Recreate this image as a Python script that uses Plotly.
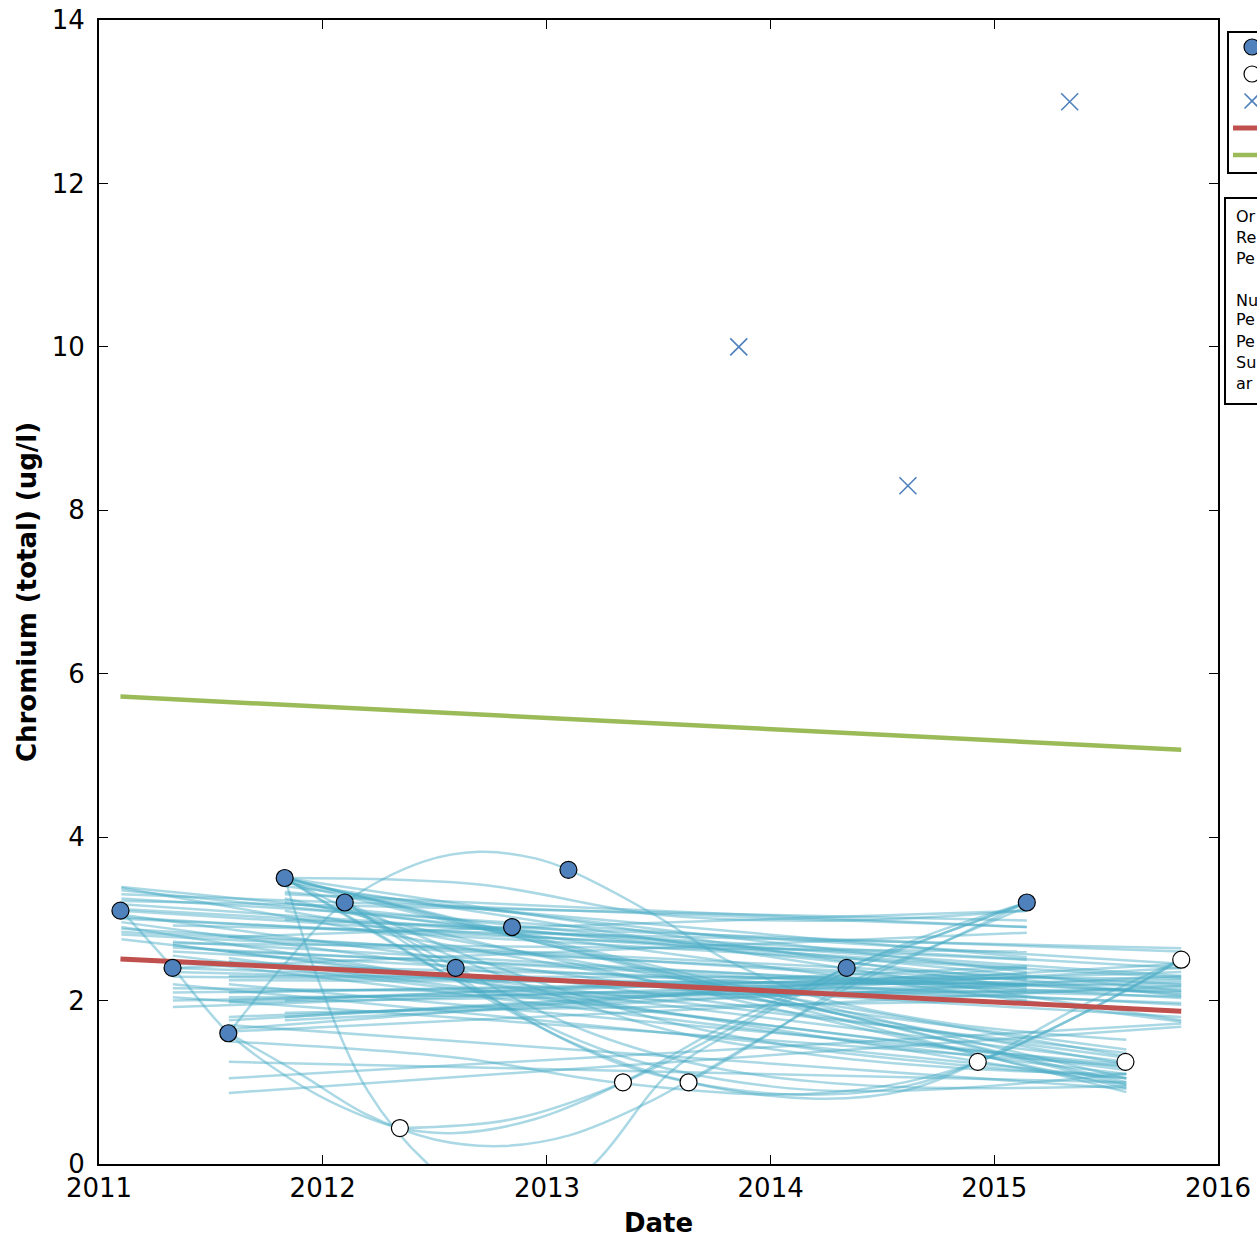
import plotly.graph_objects as go
from datetime import datetime, timedelta

# ---------------- data ----------------
detect_dates = ["2011-02-05", "2011-05-01", "2011-07-31", "2011-10-31", "2012-02-06",
                "2012-08-05", "2012-11-05", "2013-02-05", "2014-05-05", "2015-02-23"]
detect_vals = [3.1, 2.4, 1.6, 3.5, 3.2, 2.4, 2.9, 3.6, 2.4, 3.2]

nondetect_dates = ["2012-05-06", "2013-05-05", "2013-08-20", "2014-12-05", "2015-08-03", "2015-11-02"]
nondetect_vals = [0.44, 1.0, 1.0, 1.25, 1.25, 2.5]

outlier_dates = ["2013-11-10", "2014-08-13", "2015-05-04"]
outlier_vals = [10.0, 8.3, 13.0]

trend_dates = ["2011-02-05", "2015-11-02"]
trend_vals = [2.51, 1.87]
upper_vals = [5.72, 5.07]

# straight bootstrap fits: start year, start value, end year, end value
boot_t0 = [2011.10, 2011.10, 2011.10, 2011.10, 2011.10, 2011.10, 2011.10, 2011.10, 2011.10, 2011.10,
           2011.10, 2011.10, 2011.33, 2011.33, 2011.33, 2011.33, 2011.33, 2011.33, 2011.33, 2011.33,
           2011.33, 2011.33, 2011.33, 2011.33, 2011.58, 2011.58, 2011.58, 2011.58, 2011.58, 2011.58,
           2011.58, 2011.58, 2011.58, 2011.58, 2011.58, 2011.83, 2011.83, 2011.83, 2011.83, 2011.83,
           2011.83, 2011.83, 2011.83, 2011.83, 2011.83,
           2011.10, 2011.10, 2011.10, 2011.10, 2011.10, 2011.33, 2011.33, 2011.33, 2011.33, 2011.33,
           2011.33, 2011.58, 2011.58, 2011.58, 2011.58, 2011.58, 2011.58, 2011.58, 2011.83, 2011.83,
           2011.83, 2011.83, 2011.83, 2011.83, 2011.83, 2011.10, 2011.33, 2011.58]
boot_y0 = [3.39, 3.35, 3.22, 3.12, 3.02, 2.96, 2.84, 2.81, 2.75, 3.25,
           3.10, 2.90, 2.92, 2.72, 2.68, 2.65, 2.40, 2.29, 2.15, 2.10,
           2.04, 1.92, 2.50, 2.40, 2.52, 2.25, 2.04, 2.00, 1.76, 1.65,
           1.62, 1.25, 1.05, 0.87, 2.78, 3.33, 3.25, 2.99, 1.85, 1.76,
           3.50, 3.50, 3.50, 3.30, 3.45,
           3.30, 3.05, 2.88, 3.18, 3.00, 2.60, 2.45, 2.20, 2.35, 2.55,
           2.00, 2.30, 2.10, 1.98, 2.20, 1.80, 2.48, 1.70, 3.45, 3.40,
           3.20, 3.10, 3.50, 1.80, 2.00, 3.38, 2.70, 2.60]
boot_t1 = [2015.835, 2015.835, 2015.145, 2015.835, 2015.835, 2015.59, 2015.835, 2015.145, 2015.59, 2015.835,
           2015.145, 2015.59, 2015.835, 2015.835, 2015.59, 2015.145, 2015.835, 2015.835, 2015.145, 2015.835,
           2015.59, 2015.835, 2015.59, 2015.145, 2015.59, 2015.145, 2015.835, 2015.145, 2015.835, 2015.145,
           2015.835, 2015.59, 2015.835, 2015.835, 2015.145, 2015.145, 2015.59, 2015.835, 2015.145, 2015.835,
           2015.59, 2015.59, 2015.59, 2015.145, 2015.835,
           2015.145, 2015.59, 2015.835, 2015.835, 2015.145, 2015.835, 2015.145, 2015.59, 2015.835, 2015.59,
           2015.835, 2015.835, 2015.145, 2015.835, 2015.59, 2015.145, 2015.835, 2015.59, 2015.59, 2015.145,
           2015.835, 2015.59, 2015.145, 2015.835, 2015.145, 2015.59, 2015.145, 2015.835]
boot_y1 = [2.12, 2.06, 2.98, 2.40, 2.28, 1.30, 2.20, 2.25, 1.36, 2.45,
           2.40, 0.97, 2.64, 2.03, 1.25, 2.12, 1.97, 2.18, 2.05, 2.25,
           1.20, 2.35, 1.10, 2.83, 1.15, 2.20, 2.12, 2.33, 2.40, 2.40,
           2.18, 1.00, 1.72, 1.68, 3.10, 2.53, 0.93, 2.60, 2.00, 2.30,
           0.88, 1.05, 0.97, 2.90, 1.76,
           2.90, 1.40, 2.08, 2.30, 2.50, 1.95, 2.20, 1.05, 2.05, 1.18,
           2.22, 2.27, 2.28, 2.15, 1.22, 2.18, 1.80, 0.92, 1.00, 2.35,
           1.74, 1.32, 2.15, 2.45, 2.42, 1.22, 2.60, 2.10]

# curved bootstrap fits: control points (year, value)
curve_t = [
    [2011.58, 2011.83, 2012.10, 2012.45, 2012.70, 2012.95, 2013.096, 2013.48, 2013.80, 2014.20, 2014.80, 2015.59],
    [2011.10, 2011.33, 2011.58, 2011.85, 2012.10, 2012.345, 2012.60, 2012.95, 2013.34, 2013.80, 2014.34, 2014.75, 2015.145],
    [2011.58, 2011.90, 2012.20, 2012.50, 2012.80, 2013.10, 2013.45, 2013.90, 2014.34, 2014.80, 2015.145],
    [2011.83, 2011.98, 2012.20, 2012.47, 2012.85, 2013.21, 2013.54, 2013.85, 2014.34, 2014.75, 2015.145],
    [2011.83, 2012.35, 2012.85, 2013.30, 2013.635, 2014.10, 2014.60, 2014.928, 2015.40, 2015.835],
    [2012.10, 2012.60, 2013.10, 2013.635, 2014.20, 2014.60, 2014.928, 2015.40, 2015.835],
    [2011.83, 2012.60, 2013.30, 2014.00, 2014.60, 2015.59],
    [2012.10, 2012.60, 2013.20, 2013.80, 2014.50, 2015.59],
    [2012.345, 2012.85, 2013.34, 2013.85, 2014.34, 2014.80, 2015.145],
    [2013.635, 2014.00, 2014.34, 2014.80, 2015.145],
    [2011.83, 2012.70, 2013.50, 2014.34, 2015.145],
    [2011.58, 2012.60, 2013.30, 2014.00, 2014.50, 2014.928, 2015.40, 2015.835],
    [2011.83, 2012.40, 2013.00, 2013.60, 2014.30, 2015.00, 2015.59],
    [2012.10, 2012.60, 2013.10, 2013.60, 2014.20, 2014.90, 2015.59],
]
curve_v = [
    [1.60, 2.45, 3.20, 3.70, 3.82, 3.74, 3.60, 3.05, 2.50, 2.05, 1.72, 1.52],
    [3.10, 2.40, 1.60, 1.05, 0.68, 0.44, 0.38, 0.55, 1.00, 1.70, 2.40, 2.85, 3.20],
    [1.60, 1.10, 0.60, 0.30, 0.22, 0.35, 0.75, 1.45, 2.15, 2.75, 3.20],
    [3.50, 2.25, 0.90, 0.00, -0.70, 0.00, 1.10, 1.65, 2.35, 2.80, 3.20],
    [3.50, 2.65, 1.85, 1.25, 1.00, 0.85, 0.95, 1.25, 1.85, 2.50],
    [3.20, 2.30, 1.50, 1.00, 0.80, 0.90, 1.25, 1.95, 2.50],
    [3.50, 2.25, 1.35, 0.95, 0.90, 1.10],
    [3.20, 2.40, 1.60, 1.15, 0.95, 0.95],
    [0.44, 0.55, 1.00, 1.70, 2.40, 2.85, 3.20],
    [1.00, 1.60, 2.20, 2.75, 3.15],
    [3.50, 3.42, 3.05, 2.98, 3.10],
    [1.50, 1.30, 1.00, 0.85, 0.95, 1.25, 1.85, 2.50],
    [3.50, 2.75, 2.10, 1.60, 1.30, 1.15, 1.10],
    [3.20, 2.60, 2.10, 1.70, 1.40, 1.20, 1.05],
]

legend_text_lines = ["Or", "Re", "Pe", "Nu", "Pe", "Pe", "Su", "ar"]
legend_text_px = [216, 237, 258, 300, 320, 341, 362, 383]

# ---------------- helpers ----------------
def yr(t):
    y = int(t)
    d = datetime(y, 1, 1) + timedelta(days=(t - y) * 365.25)
    return d.strftime("%Y-%m-%d %H:%M")

L, R, T, B = 99, 39, 20, 74
W, H = 1257, 1238
PW, PH = W - L - R, H - T - B

def px_x(p):
    return (p - L) / PW

def px_y(p):
    return (H - B - p) / PH

BOOT = "rgba(75,172,198,0.47)"
BLUE = "#4F81BD"
RED = "#C0504D"
GREEN = "#9BBB59"

fig = go.Figure()

for t0, y0, t1, y1 in zip(boot_t0, boot_y0, boot_t1, boot_y1):
    fig.add_trace(go.Scatter(x=[yr(t0), yr(t1)], y=[y0, y1], mode="lines",
                             line=dict(color=BOOT, width=2.5), showlegend=False, hoverinfo="skip"))
for ts, vs in zip(curve_t, curve_v):
    fig.add_trace(go.Scatter(x=[yr(t) for t in ts], y=vs, mode="lines",
                             line=dict(color=BOOT, width=2.5, shape="spline", smoothing=1.0),
                             showlegend=False, hoverinfo="skip"))

fig.add_trace(go.Scatter(x=trend_dates, y=upper_vals, mode="lines",
                         line=dict(color=GREEN, width=4.5), name="Upper", showlegend=False))
fig.add_trace(go.Scatter(x=trend_dates, y=trend_vals, mode="lines",
                         line=dict(color=RED, width=5), name="Trend", showlegend=False))
fig.add_trace(go.Scatter(x=outlier_dates, y=outlier_vals, mode="markers",
                         marker=dict(symbol="x-thin", size=17, line=dict(color=BLUE, width=1.6)),
                         name="Outlier", showlegend=False))
fig.add_trace(go.Scatter(x=nondetect_dates, y=nondetect_vals, mode="markers",
                         marker=dict(symbol="circle", size=17, color="white", line=dict(color="black", width=1.2)),
                         name="Non-detect", showlegend=False))
fig.add_trace(go.Scatter(x=detect_dates, y=detect_vals, mode="markers",
                         marker=dict(symbol="circle", size=17, color=BLUE, line=dict(color="black", width=1.2)),
                         name="Detect", showlegend=False))

# ---------------- legend boxes (drawn, cut by page edge) ----------------
shapes = []
shapes.append(dict(type="rect", xref="paper", yref="paper", x0=px_x(1228), x1=px_x(1300),
                   y0=px_y(173), y1=px_y(32), line=dict(color="black", width=2), fillcolor="white", layer="above"))
shapes.append(dict(type="rect", xref="paper", yref="paper", x0=px_x(1225), x1=px_x(1300),
                   y0=px_y(404), y1=px_y(198), line=dict(color="black", width=2), fillcolor="white", layer="above"))
shapes.append(dict(type="circle", xref="paper", yref="paper", xsizemode="pixel", ysizemode="pixel",
                   xanchor=px_x(1252), yanchor=px_y(47), x0=-8, x1=8, y0=-8, y1=8,
                   fillcolor=BLUE, line=dict(color="black", width=1.2)))
shapes.append(dict(type="circle", xref="paper", yref="paper", xsizemode="pixel", ysizemode="pixel",
                   xanchor=px_x(1252), yanchor=px_y(74), x0=-8, x1=8, y0=-8, y1=8,
                   fillcolor="white", line=dict(color="black", width=1.2)))
shapes.append(dict(type="line", xref="paper", yref="paper", xsizemode="pixel", ysizemode="pixel",
                   xanchor=px_x(1252), yanchor=px_y(101), x0=-7.5, x1=7.5, y0=-7.5, y1=7.5,
                   line=dict(color=BLUE, width=1.6)))
shapes.append(dict(type="line", xref="paper", yref="paper", xsizemode="pixel", ysizemode="pixel",
                   xanchor=px_x(1252), yanchor=px_y(101), x0=-7.5, x1=7.5, y0=7.5, y1=-7.5,
                   line=dict(color=BLUE, width=1.6)))
shapes.append(dict(type="line", xref="paper", yref="paper", x0=px_x(1233), x1=px_x(1300),
                   y0=px_y(128), y1=px_y(128), line=dict(color=RED, width=5)))
shapes.append(dict(type="line", xref="paper", yref="paper", x0=px_x(1233), x1=px_x(1300),
                   y0=px_y(155), y1=px_y(155), line=dict(color=GREEN, width=4.5)))

annotations = []
for txt, p in zip(legend_text_lines, legend_text_px):
    annotations.append(dict(text=txt, xref="paper", yref="paper", x=px_x(1234), y=px_y(p),
                            xanchor="left", yanchor="middle", showarrow=False,
                            font=dict(family="DejaVu Sans", size=16, color="black")))

axis_common = dict(showline=True, linecolor="black", linewidth=2, mirror="ticks",
                   ticks="inside", ticklen=9, tickwidth=1.2, tickcolor="black",
                   showgrid=False, zeroline=False,
                   tickfont=dict(family="DejaVu Sans", size=26, color="black"))

fig.update_layout(
    width=W, height=H,
    margin=dict(l=L, r=R, t=T, b=B, autoexpand=False),
    plot_bgcolor="white", paper_bgcolor="white",
    showlegend=False,
    shapes=shapes, annotations=annotations,
    xaxis=dict(range=["2011-01-01", "2016-01-01"], type="date", tick0="2011-01-01", dtick="M12",
               tickformat="%Y",
               title=dict(text="<b>Date</b>", font=dict(family="DejaVu Sans", size=26, color="black"), standoff=17),
               **axis_common),
    yaxis=dict(range=[0, 14], tick0=0, dtick=2, ticklabelstandoff=7,
               title=dict(text="<b>Chromium (total) (ug/l)</b>", font=dict(family="DejaVu Sans", size=26, color="black"), standoff=8),
               **axis_common),
)

fig.write_html("out.html", config={"displayModeBar": False},
               post_script="document.body.style.margin='0';document.body.style.overflow='hidden';")
